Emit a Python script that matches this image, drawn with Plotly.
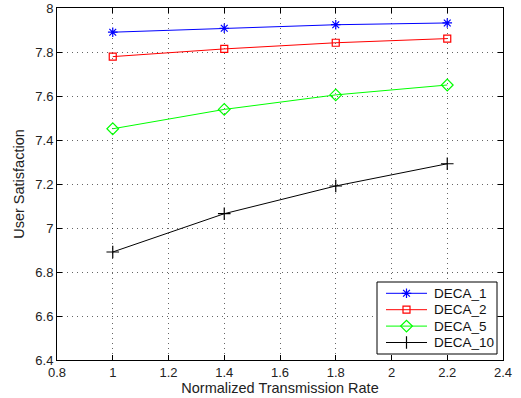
import plotly.graph_objects as go

# Normalized transmission rate (x) and user satisfaction for each scheme
rates = [1.0, 1.4, 1.8, 2.2]
deca_1 = [7.890, 7.908, 7.924, 7.932]
deca_2 = [7.779, 7.814, 7.842, 7.861]
deca_5 = [7.451, 7.539, 7.605, 7.650]
deca_10 = [6.891, 7.065, 7.191, 7.292]

x_ticks = [0.8, 1.0, 1.2, 1.4, 1.6, 1.8, 2.0, 2.2, 2.4]
x_tick_text = ["0.8", "1", "1.2", "1.4", "1.6", "1.8", "2", "2.2", "2.4"]
y_ticks = [6.4, 6.6, 6.8, 7.0, 7.2, 7.4, 7.6, 7.8, 8.0]
y_tick_text = ["6.4", "6.6", "6.8", "7", "7.2", "7.4", "7.6", "7.8", "8"]

series = [
    ("DECA_1", deca_1, "#0000ff", "asterisk-open", 8),
    ("DECA_2", deca_2, "#ff0000", "square-open", 7),
    ("DECA_5", deca_5, "#00ff00", "diamond-open", 9),
    ("DECA_10", deca_10, "#000000", "cross-thin-open", 9),
]

W, H = 521, 398
M_L, M_R, M_T, M_B = 57, 18, 8, 38
X_RANGE = [0.8, 2.4]
Y_RANGE = [6.4, 8.0]


def px_to_x(px):
    return X_RANGE[0] + (px - M_L) / (W - M_L - M_R) * (X_RANGE[1] - X_RANGE[0])


def px_to_y(py):
    return Y_RANGE[1] - (py - M_T) / (H - M_T - M_B) * (Y_RANGE[1] - Y_RANGE[0])


fig = go.Figure()
for name, vals, color, symbol, size in series:
    fig.add_trace(go.Scatter(
        x=rates, y=vals, name=name, mode="lines+markers", showlegend=False,
        line=dict(color=color, width=1),
        marker=dict(symbol=symbol, size=size, color=color,
                    line=dict(color=color, width=1.2)),
    ))

# MATLAB-style legend box: glyphs on a hidden pixel-unit overlay axis
LEG_X0, LEG_X1, LEG_Y0 = 377, 497, 282
ROW_H, ROW_PAD = 16.4, 11.3
LINE_X0, LINE_X1, TEXT_X = 386, 427, 432
for i, (name, vals, color, symbol, size) in enumerate(series):
    ry = LEG_Y0 + ROW_PAD + i * ROW_H
    fig.add_trace(go.Scatter(
        x=[LINE_X0, LINE_X1], y=[ry, ry], mode="lines", showlegend=False,
        xaxis="x2", yaxis="y2", hoverinfo="skip",
        line=dict(color=color, width=1),
    ))
    fig.add_trace(go.Scatter(
        x=[(LINE_X0 + LINE_X1) / 2], y=[ry], mode="markers", showlegend=False,
        xaxis="x2", yaxis="y2", hoverinfo="skip",
        marker=dict(symbol=symbol, size=size, color=color,
                    line=dict(color=color, width=1.2)),
    ))
    fig.add_annotation(
        x=TEXT_X, y=ry, xref="x2", yref="y2", text=name, showarrow=False,
        xanchor="left", yanchor="middle",
        font=dict(size=13.5, color="#111"),
    )
leg_y1 = LEG_Y0 + 2 * ROW_PAD + (len(series) - 1) * ROW_H + 0.2
fig.add_shape(type="rect", xref="x", yref="y",
              x0=px_to_x(LEG_X0), x1=px_to_x(LEG_X1),
              y0=px_to_y(LEG_Y0), y1=px_to_y(leg_y1),
              line=dict(color="black", width=1), fillcolor="white", layer="between")

axis_common = dict(
    showline=True, linecolor="black", linewidth=1, mirror="allticks",
    ticks="inside", ticklen=5, tickcolor="black",
    showgrid=True, gridcolor="rgba(0,0,0,0.6)", griddash="1px,4px", gridwidth=1,
    zeroline=False, tickfont=dict(size=13, color="#222"), automargin=False,
)

fig.update_layout(
    width=W, height=H,
    margin=dict(l=M_L, r=M_R, t=M_T, b=M_B),
    paper_bgcolor="white", plot_bgcolor="white",
    font=dict(family="Liberation Sans, Arial, sans-serif", color="#222"),
    xaxis=dict(range=X_RANGE, tickvals=x_ticks, ticktext=x_tick_text,
               title=dict(text="Normalized Transmission Rate", font=dict(size=14.5), standoff=0),
               **axis_common),
    yaxis=dict(range=Y_RANGE, tickvals=y_ticks, ticktext=y_tick_text,
               title=dict(text="User Satisfaction", font=dict(size=14.5), standoff=7),
               **axis_common),
    xaxis2=dict(overlaying="x", range=[M_L, W - M_R], visible=False, fixedrange=True),
    yaxis2=dict(overlaying="y", range=[H - M_B, M_T], visible=False, fixedrange=True),
    showlegend=False,
)

fig.write_html("out.html")
